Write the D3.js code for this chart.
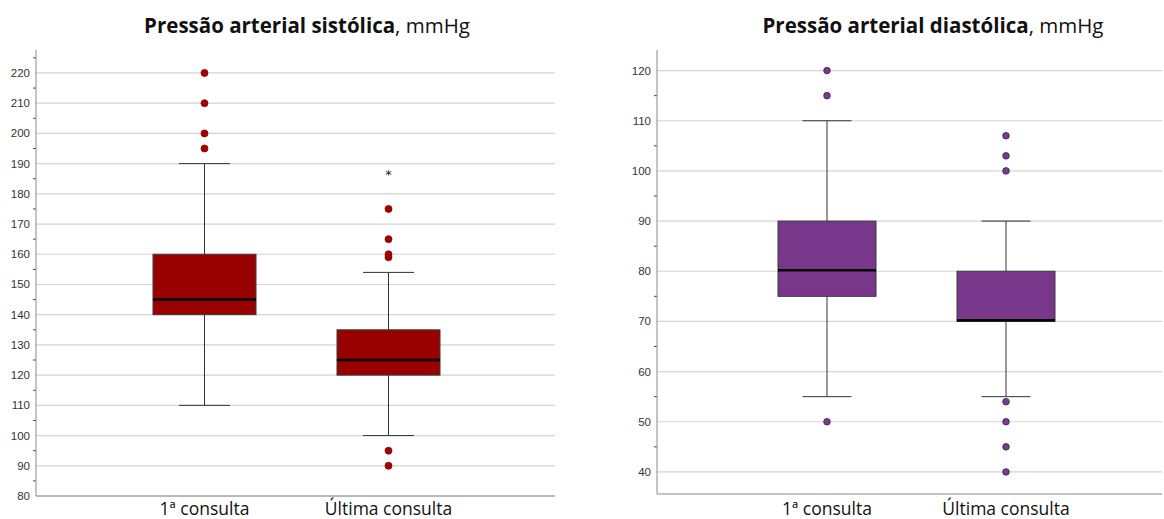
<!DOCTYPE html>
<html>
<head>
<meta charset="utf-8">
<script src="https://cdn.jsdelivr.net/npm/d3@7"></script>
<style>
  body { margin: 0; background: #fff; }
  svg { display: block; }
</style>
</head>
<body>
<div id="chart"></div>
<script>
// categories shared by both panels
var categories = ["1ª consulta", "Última consulta"];

// systolic pressure (mmHg)
var sysQ1 = [140, 120];
var sysMedian = [145, 125];
var sysQ3 = [160, 135];
var sysLow = [110, 100];
var sysHigh = [190, 154];
var sysOutliers = [[195, 200, 210, 220], [90, 95, 159, 160, 165, 175]];
var sysExtremes = [[], [187]];
var sysTicks = [80, 90, 100, 110, 120, 130, 140, 150, 160, 170, 180, 190, 200, 210, 220];

// diastolic pressure (mmHg)
var diaQ1 = [75, 70];
var diaMedian = [80.2, 70.25];
var diaQ3 = [90, 80];
var diaLow = [55, 55];
var diaHigh = [110, 90];
var diaOutliers = [[50, 115, 120], [40, 45, 50, 54, 100, 103, 107]];
var diaExtremes = [[], []];
var diaTicks = [40, 50, 60, 70, 80, 90, 100, 110, 120];

var svgWidth = 1164;
var svgHeight = 519;

var svg = d3.select("#chart")
  .append("svg")
  .attr("width", svgWidth)
  .attr("height", svgHeight);

function drawPanel(cfg) {
  var g = svg.append("g");

  var yScale = d3.scaleLinear()
    .domain(cfg.domain)
    .range([cfg.bottom, cfg.top]);

  var xScale = d3.scalePoint()
    .domain(categories)
    .range(cfg.centers);

  // gridlines
  g.selectAll(".grid")
    .data(cfg.ticks)
    .enter()
    .append("line")
    .attr("x1", cfg.left)
    .attr("x2", cfg.right)
    .attr("y1", d => yScale(d))
    .attr("y2", d => yScale(d))
    .attr("stroke", "#d4d4d4")
    .attr("stroke-width", 1.2);

  // minor ticks on the axis
  var minor = cfg.ticks.map(d => d + cfg.step / 2).filter(d => yScale(d) > cfg.top);
  if (yScale(cfg.ticks[0] - cfg.step / 2) < cfg.bottom) minor.unshift(cfg.ticks[0] - cfg.step / 2);
  g.selectAll(".minor")
    .data(minor)
    .enter()
    .append("line")
    .attr("x1", cfg.left - 3)
    .attr("x2", cfg.left)
    .attr("y1", d => yScale(d))
    .attr("y2", d => yScale(d))
    .attr("stroke", "#444")
    .attr("stroke-width", 1);

  // axis lines
  g.append("line")
    .attr("x1", cfg.left).attr("x2", cfg.left)
    .attr("y1", cfg.top).attr("y2", cfg.bottom)
    .attr("stroke", "#8a8a8a");
  g.append("line")
    .attr("x1", cfg.left).attr("x2", cfg.right)
    .attr("y1", cfg.bottom).attr("y2", cfg.bottom)
    .attr("stroke", "#8a8a8a");

  // tick labels
  g.selectAll(".tlabel")
    .data(cfg.ticks)
    .enter()
    .append("text")
    .attr("x", cfg.left - 6)
    .attr("y", d => yScale(d) + 4)
    .attr("text-anchor", "end")
    .attr("font-family", "Liberation Sans, Arial, sans-serif")
    .attr("font-size", "11.5px")
    .attr("fill", "#333")
    .text(d => d);

  var idx = d3.range(categories.length);

  // whiskers
  g.selectAll(".whisk")
    .data(idx)
    .enter()
    .append("line")
    .attr("x1", i => xScale(categories[i]))
    .attr("x2", i => xScale(categories[i]))
    .attr("y1", i => yScale(cfg.low[i]))
    .attr("y2", i => yScale(cfg.high[i]))
    .attr("stroke", "#333");

  ["low", "high"].forEach(function(k) {
    g.selectAll(".cap" + k)
      .data(idx)
      .enter()
      .append("line")
      .attr("x1", i => xScale(categories[i]) - cfg.capW / 2)
      .attr("x2", i => xScale(categories[i]) + cfg.capW / 2)
      .attr("y1", i => yScale(cfg[k][i]))
      .attr("y2", i => yScale(cfg[k][i]))
      .attr("stroke", "#333");
  });

  // boxes
  g.selectAll(".box")
    .data(idx)
    .enter()
    .append("rect")
    .attr("x", i => xScale(categories[i]) - cfg.boxW / 2)
    .attr("width", cfg.boxW)
    .attr("y", i => yScale(cfg.q3[i]))
    .attr("height", i => yScale(cfg.q1[i]) - yScale(cfg.q3[i]))
    .attr("fill", cfg.color)
    .attr("stroke", "#3a3a3a")
    .attr("stroke-width", 1);

  // medians
  g.selectAll(".med")
    .data(idx)
    .enter()
    .append("line")
    .attr("x1", i => xScale(categories[i]) - cfg.boxW / 2)
    .attr("x2", i => xScale(categories[i]) + cfg.boxW / 2)
    .attr("y1", i => yScale(cfg.median[i]))
    .attr("y2", i => yScale(cfg.median[i]))
    .attr("stroke", "#000")
    .attr("stroke-width", 2.5);

  // outliers
  idx.forEach(function(i) {
    g.selectAll(".out" + i)
      .data(cfg.outliers[i])
      .enter()
      .append("circle")
      .attr("cx", xScale(categories[i]))
      .attr("cy", d => yScale(d))
      .attr("r", cfg.dotR)
      .attr("fill", cfg.dotColor)
      .attr("stroke", cfg.dotStroke)
      .attr("stroke-width", 0.8);

    g.selectAll(".ext" + i)
      .data(cfg.extremes[i])
      .enter()
      .append("text")
      .attr("x", xScale(categories[i]))
      .attr("y", d => yScale(d) + 6)
      .attr("text-anchor", "middle")
      .attr("font-family", "DejaVu Sans, sans-serif")
      .attr("font-size", "13px")
      .attr("fill", "#222")
      .text("*");
  });

  // category labels
  g.selectAll(".clabel")
    .data(categories)
    .enter()
    .append("text")
    .attr("x", d => xScale(d))
    .attr("y", 515)
    .attr("text-anchor", "middle")
    .attr("font-family", "Open Sans, sans-serif")
    .attr("font-size", "17.5px")
    .attr("fill", "#111")
    .text(d => d);

  // title
  var title = g.append("text")
    .attr("x", cfg.titleX)
    .attr("y", 33)
    .attr("text-anchor", "middle")
    .attr("font-family", "Open Sans, sans-serif")
    .attr("font-size", "20.5px")
    .attr("fill", "#111");
  title.append("tspan").attr("font-weight", "bold").text(cfg.title);
  title.append("tspan").text(", mmHg");
}

drawPanel({
  domain: [80, 227.6], top: 50, bottom: 496,
  left: 36, right: 555, centers: [204.5, 388.5],
  ticks: sysTicks, step: 10,
  q1: sysQ1, median: sysMedian, q3: sysQ3, low: sysLow, high: sysHigh,
  outliers: sysOutliers, extremes: sysExtremes,
  boxW: 103, capW: 51, color: "#990000",
  dotR: 3.5, dotColor: "#a00000", dotStroke: "#990000",
  title: "Pressão arterial sistólica", titleX: 307
});

drawPanel({
  domain: [35.6, 124.1], top: 50, bottom: 494,
  left: 657, right: 1162, centers: [827, 1006],
  ticks: diaTicks, step: 10,
  q1: diaQ1, median: diaMedian, q3: diaQ3, low: diaLow, high: diaHigh,
  outliers: diaOutliers, extremes: diaExtremes,
  boxW: 98, capW: 49, color: "#78378b",
  dotR: 3.3, dotColor: "#7a3a8e", dotStroke: "#3a2040",
  title: "Pressão arterial diastólica", titleX: 933
});
</script>
</body>
</html>
